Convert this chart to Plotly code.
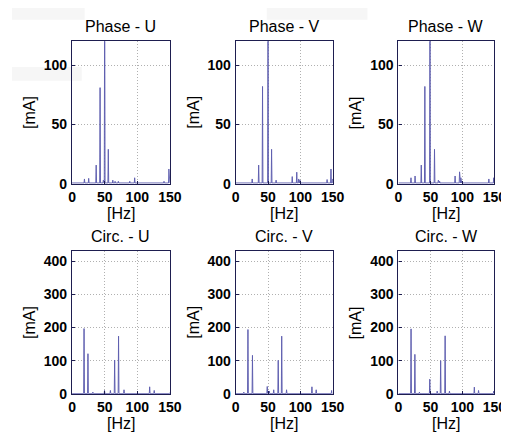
import plotly.graph_objects as go

# ---------------- data (peak frequency [Hz] / amplitude [mA]) ----------------
titles = ["Phase - U", "Phase - V", "Phase - W", "Circ. - U", "Circ. - V", "Circ. - W"]

phase_u_f = [19, 25.5, 37, 43, 48, 50, 55.6, 62.5, 66, 71, 88.5, 96, 141, 148.5]
phase_u_a = [4, 4.5, 15.7, 81, 3, 160, 29, 3, 2, 2, 2, 5, 2, 12.4]

phase_v_f = [25.5, 35.5, 41.5, 50, 55.5, 62.5, 87.5, 94.5, 97.5, 99.5, 141.5, 147.5, 150]
phase_v_a = [4, 15.7, 82, 160, 29, 3, 6, 9.7, 4, 3, 3.5, 12.4, 4]

phase_w_f = [19.6, 26, 35.7, 41.3, 49.3, 56.4, 62.4, 64.4, 88.6, 95.6, 97.6, 99.6, 141.4, 149]
phase_w_a = [5, 6.5, 15.7, 82, 160, 29, 3, 2, 6.5, 10, 5, 2, 4, 5]

circ_u_f = [18.4, 24.4, 31.9, 49.8, 58.8, 65.3, 71.3, 79.7, 119, 126, 150]
circ_u_a = [197, 121, 5, 10, 10, 102, 174, 12, 21, 10, 3]

circ_v_f = [12.5, 18.9, 25.9, 48.8, 52, 58.8, 65.8, 71.2, 78.7, 118, 124.6, 148.5]
circ_v_a = [5, 194, 116, 22, 8, 12, 101, 174, 12, 21, 12, 10]

circ_w_f = [19.7, 25.7, 32.8, 49, 60.6, 66, 73, 79.8, 118.7, 125.3, 149]
circ_w_a = [196, 119, 5, 44, 8, 100, 175, 8, 20, 10, 8]

freqs = [phase_u_f, phase_v_f, phase_w_f, circ_u_f, circ_v_f, circ_w_f]
amps = [phase_u_a, phase_v_a, phase_w_a, circ_u_a, circ_v_a, circ_w_a]

x_ticks = [0, 50, 100, 150]
y_ticks_phase = [0, 50, 100]
y_ticks_circ = [0, 100, 200, 300, 400]
x_range = [0, 150]
y_range_phase = [0, 120]
y_range_circ = [0, 430]

# ---------------- layout geometry ----------------
W, H = 509, 434
col_px = [(62, 163), (231, 331), (399, 498)]
row_px = [(34, 179), (248, 393)]

LINE = "#6060b0"
FRAME = "#1e1e50"
GRID = "#b0b0b0"
FONT = "Liberation Sans, Arial, sans-serif"
TXT = "#000000"


def spectrum(fs, as_, half=0.6):
    pts = sorted(zip(fs, as_))
    xs, ys = [0.0], [0.6]
    for f, a in pts:
        xs += [max(f - half, 0), f, min(f + half, 150)]
        ys += [0.6, a, 0.6]
    xs.append(150.0)
    ys.append(0.6)
    return xs, ys


fig = go.Figure()
annotations = []
layout_axes = {}

for i in range(6):
    r, c = divmod(i, 3)
    x0, x1 = col_px[c]
    y0, y1 = row_px[r]
    ax = "" if i == 0 else str(i + 1)
    xs, ys = spectrum(freqs[i], amps[i])
    fig.add_trace(go.Scatter(x=xs, y=ys, mode="lines",
                             line=dict(color=LINE, width=1),
                             xaxis="x" + ax, yaxis="y" + ax,
                             showlegend=False, hoverinfo="skip"))
    yr = y_range_phase if r == 0 else y_range_circ
    yt = y_ticks_phase if r == 0 else y_ticks_circ
    common = dict(showline=True, mirror=True, linecolor=FRAME, linewidth=1.2,
                  showgrid=True, gridcolor=GRID, griddash="1px,2px", gridwidth=1,
                  zeroline=False, ticks="inside", ticklen=3, tickcolor=FRAME,
                  tickfont=dict(family=FONT, size=14, color=TXT, weight="bold"),
                  fixedrange=True)
    layout_axes["xaxis" + ax] = dict(
        common, domain=[x0 / W, x1 / W], range=x_range, tickvals=x_ticks,
        anchor="y" + ax, ticklabelstandoff=0)
    layout_axes["yaxis" + ax] = dict(
        common, domain=[1 - y1 / H, 1 - y0 / H], range=yr, tickvals=yt,
        anchor="x" + ax, ticklabelstandoff=1)
    cx = (x0 + x1) / 2
    annotations.append(dict(text=titles[i], x=cx / W, y=1 - (y0 - 15) / H,
                            xref="paper", yref="paper", showarrow=False,
                            font=dict(family=FONT, size=16, color=TXT),
                            xanchor="center", yanchor="middle"))
    annotations.append(dict(text="[Hz]", x=cx / W, y=1 - (y1 + 30) / H,
                            xref="paper", yref="paper", showarrow=False,
                            font=dict(family=FONT, size=16, color=TXT),
                            xanchor="center", yanchor="middle"))
    annotations.append(dict(text="[mA]", x=(x0 - 44) / W, y=1 - ((y0 + y1) / 2) / H,
                            xref="paper", yref="paper", showarrow=False, textangle=-90,
                            font=dict(family=FONT, size=16, color=TXT),
                            xanchor="center", yanchor="middle"))

bg = "#f6f6f6"
shapes = [
    dict(type="rect", xref="paper", yref="paper", x0=0, x1=75 / W, y0=1 - 12 / H, y1=1,
         fillcolor=bg, line=dict(width=0), layer="below"),
    dict(type="rect", xref="paper", yref="paper", x0=0, x1=72 / W, y0=1 - 74 / H, y1=1 - 60 / H,
         fillcolor=bg, line=dict(width=0), layer="below"),
    dict(type="rect", xref="paper", yref="paper", x0=263 / W, x1=367 / W, y0=1 - 12 / H, y1=1,
         fillcolor=bg, line=dict(width=0), layer="below"),
]

fig.update_layout(
    width=W, height=H, margin=dict(l=0, r=0, t=0, b=0),
    paper_bgcolor="white", plot_bgcolor="white",
    annotations=annotations, shapes=shapes, **layout_axes)

fig.write_html("out.html")
